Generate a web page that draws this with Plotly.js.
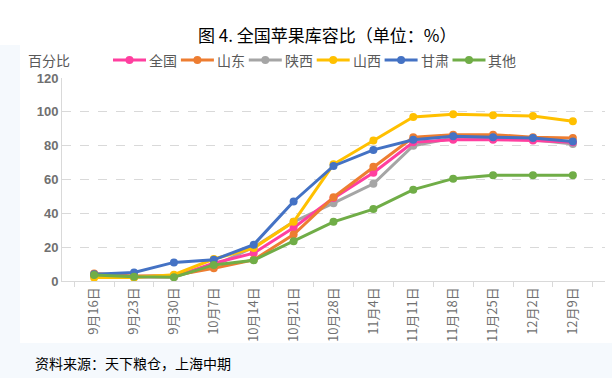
<!DOCTYPE html>
<html><head><meta charset="utf-8">
<script src="https://cdn.plot.ly/plotly-3.0.1.min.js"></script>
<style>html,body{margin:0;padding:0;background:#fff;}#chart{width:612px;height:378px;}</style>
</head><body><div id="chart"></div>
<script>
var categories = ['9月16日','9月23日','9月30日','10月7日','10月14日','10月21日','10月28日','11月4日','11月11日','11月18日','11月25日','12月2日','12月9日'];
var seriesNames = ['全国','山东','陕西','山西','甘肃','其他'];
var quanguo = [3, 2.5, 2.5, 10.5, 16.5, 31.5, 49, 64, 82, 83.5, 83.5, 83, 82];
var shandong = [4.5, 3, 3.3, 7.5, 12.5, 27.5, 49.5, 67.5, 85, 86.5, 86.5, 85, 84.5];
var shaanxi = [3, 2.5, 2.5, 9, 20, 35, 46, 57.5, 80, 84.5, 84, 83.5, 81];
var shanxi = [2, 2, 3.7, 13, 19.5, 35, 69, 83, 97, 98.5, 98, 97.5, 94.5];
var gansu = [4, 5, 11, 12.5, 21.5, 47, 68, 77.5, 83.5, 85.5, 85, 84.5, 82.5];
var qita = [3.5, 2.5, 2.2, 9.5, 12.3, 23.5, 35, 42.5, 54, 60.5, 62.5, 62.5, 62.5];
var yTicks = [0, 20, 40, 60, 80, 100, 120];

var colors = ['#ff3f9f','#ed7d31','#a5a5a5','#ffc000','#4472c4','#70ad47'];
var values = [quanguo, shandong, shaanxi, shanxi, gansu, qita];
var order = [2, 0, 1, 3, 4, 5];
var traces = seriesNames.map(function(n, i){
  return {x: categories, y: values[i], name: n, type: 'scatter', mode: 'lines+markers',
    line: {color: colors[i], width: 3}, marker: {color: colors[i], size: 8},
    showlegend: false};
});
var data = order.map(function(i){ return traces[i]; });

// plot area in pixels
var L = 62, R = 7, T = 78, B = 97, W = 612 - L - R, H = 378 - T - B;
function px(x){ return (x - L) / W; }
function py(y){ return (378 - B - y) / H; }

var shapes = [
  {type: 'rect', xref: 'paper', yref: 'paper', x0: px(0), x1: px(612), y0: py(378), y1: py(343),
    fillcolor: '#f5f9fd', line: {width: 0}, layer: 'below'},
  {type: 'rect', xref: 'paper', yref: 'paper', x0: px(0), x1: px(20), y0: py(343), y1: py(45),
    fillcolor: '#f5f9fd', line: {width: 0}, layer: 'below'}
];
var annotations = [
  {text: '图 4. 全国苹果库容比（单位：%）', xref: 'paper', yref: 'paper', x: px(327), y: py(34),
    xanchor: 'center', yanchor: 'middle', showarrow: false,
    font: {size: 17, color: '#000000', family: '"Noto Sans CJK SC", sans-serif'}},
  {text: '百分比', xref: 'paper', yref: 'paper', x: px(26), y: py(60),
    xanchor: 'left', yanchor: 'middle', showarrow: false,
    font: {size: 14, color: '#595959', family: '"Noto Sans CJK SC", sans-serif'}},
  {text: '资料来源：天下粮仓，上海中期', xref: 'paper', yref: 'paper', x: px(33), y: py(363),
    xanchor: 'left', yanchor: 'middle', showarrow: false,
    font: {size: 14, color: '#000000', family: '"Noto Sans CJK SC", sans-serif'}}
];
// legend row
var legStart = 113, legStep = 67.9, legLine = 33, legY = 60;
seriesNames.forEach(function(n, i){
  var x0 = legStart + i * legStep, x1 = x0 + legLine, xc = (x0 + x1) / 2;
  shapes.push({type: 'line', xref: 'paper', yref: 'paper', x0: px(x0), x1: px(x1), y0: py(legY), y1: py(legY),
    line: {color: colors[i], width: 3}});
  shapes.push({type: 'circle', xref: 'paper', yref: 'paper', x0: px(xc - 4), x1: px(xc + 4),
    y0: py(legY + 4), y1: py(legY - 4), fillcolor: colors[i], line: {width: 0}});
  annotations.push({text: n, xref: 'paper', yref: 'paper', x: px(x1 + 1), y: py(legY),
    xanchor: 'left', yanchor: 'middle', showarrow: false,
    font: {size: 14, color: '#595959', family: '"Noto Sans CJK SC", sans-serif'}});
});

var layout = {
  width: 612, height: 378,
  margin: {l: L, r: R, t: T, b: B},
  paper_bgcolor: '#ffffff', plot_bgcolor: '#ffffff',
  font: {family: 'Arial, "Noto Sans CJK SC", sans-serif', color: '#707070'},
  showlegend: false,
  xaxis: {type: 'category', tickangle: -90, tickson: 'boundaries', ticks: 'outside', ticklen: 5,
    tickcolor: '#d9d9d9', showline: true, linecolor: '#d9d9d9', linewidth: 1, showgrid: false,
    tickfont: {size: 13, color: '#707070', family: '"Noto Sans CJK SC", Arial, sans-serif'}},
  yaxis: {range: [0, 120], tickvals: yTicks, ticktext: yTicks.map(String), showline: true,
    linecolor: '#d9d9d9', gridcolor: '#d9d9d9', griddash: 'dash', zeroline: false, ticks: '',
    tickfont: {size: 13, color: '#707070', family: 'Arial, sans-serif', weight: 'bold'}},
  shapes: shapes,
  annotations: annotations
};
Plotly.newPlot('chart', data, layout, {displayModeBar: false, staticPlot: true});
</script></body></html>
